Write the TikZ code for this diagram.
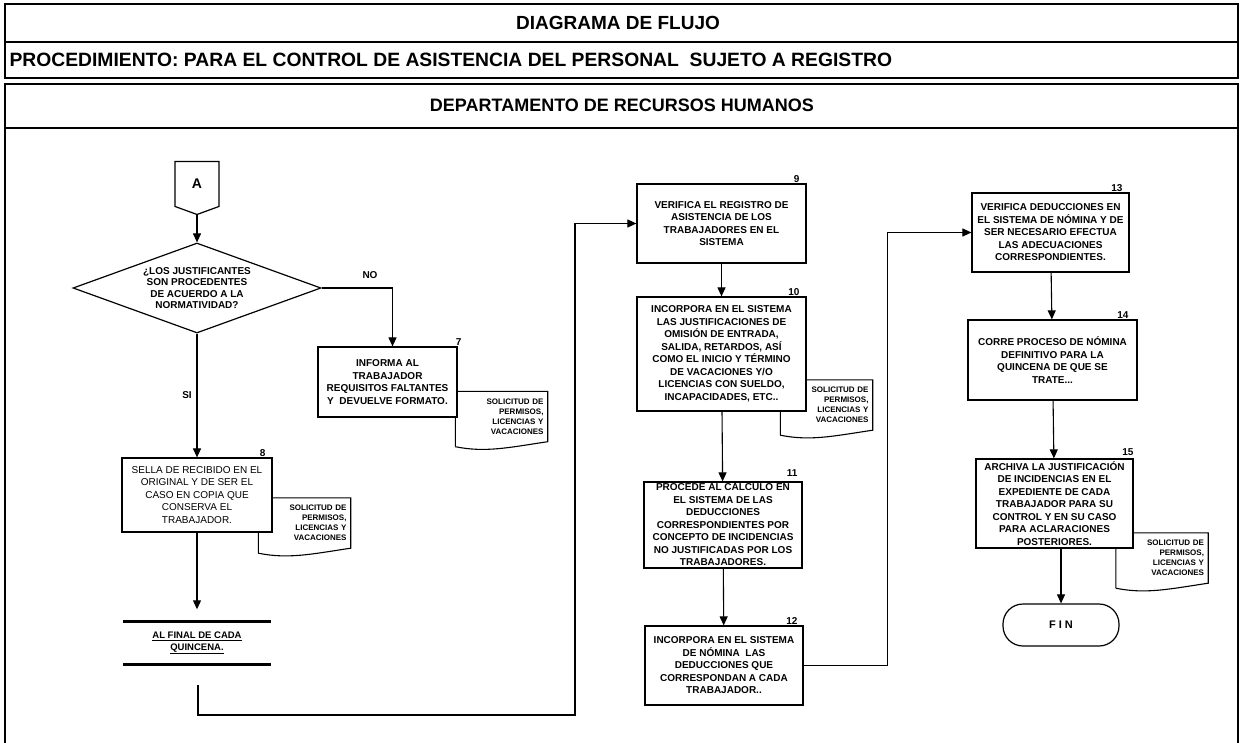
\documentclass[tikz,border=0pt]{standalone}
\usepackage{fontspec}
\setmainfont{Liberation Sans}
\usetikzlibrary{shapes.geometric, shapes.symbols, arrows.meta, positioning, backgrounds}
\tikzstyle{process} = [rectangle, draw=black, line width=1.2pt, fill=white, align=center, font=\fontsize{10}{12.5}\selectfont\bfseries, inner sep=1pt]
\tikzstyle{decision} = [diamond, draw=black, line width=1.2pt, fill=white, align=center, font=\fontsize{10}{11.5}\selectfont\bfseries, aspect=2.75, inner sep=0pt, minimum width=248pt, minimum height=90pt]
\tikzstyle{docu} = [rectangle, align=right, font=\fontsize{8}{10}\selectfont\bfseries, text width=84pt, inner xsep=4pt, minimum height=50pt]
\tikzstyle{docline} = [line width=1.1pt]
\tikzstyle{num} = [font=\fontsize{10}{12}\selectfont\bfseries, anchor=south east, inner sep=1pt]
\tikzstyle{lbl} = [font=\fontsize{10}{12}\selectfont\bfseries]
\tikzstyle{heading} = [font=\fontsize{19}{21}\selectfont\bfseries]
\tikzstyle{frame} = [line width=2pt]
\tikzstyle{offpage} = [signal, signal to=south, signal pointer angle=140, draw=black, line width=1.2pt, font=\fontsize{14}{16}\selectfont\bfseries, minimum width=44pt, minimum height=48pt]
\tikzstyle{terminal} = [rectangle, rounded corners=20pt, draw=black, line width=1.2pt, minimum width=116pt, minimum height=42pt, font=\fontsize{11}{13}\selectfont\bfseries]
\tikzstyle{waitbox} = [align=center, font=\fontsize{9.5}{12}\selectfont\bfseries, minimum width=147pt, minimum height=43pt]
\tikzstyle{arrow} = [line width=1.1pt,->,>={Triangle[length=9pt,width=8pt]}]

\begin{document}
\begin{tikzpicture}[x=1pt, y=-1pt, node distance=130pt]
    \useasboundingbox (0,0) rectangle (1241,743);
    % frames
    \draw[frame] (5,4) rectangle (1238,42);
    \draw[frame] (5,42) rectangle (1238,78);
    \draw[frame] (5,743) -- (5,84) -- (1238,84) -- (1238,743);
    \draw[frame] (5,128) -- (1238,128);
    \node (title) [heading] at (618,23) {DIAGRAMA DE FLUJO};
    \node (procname) [heading, anchor=west, font=\fontsize{19.3}{21}\selectfont\bfseries] at (6,60) {PROCEDIMIENTO: PARA EL CONTROL DE ASISTENCIA DEL PERSONAL\ \ SUJETO A REGISTRO};
    \node (dept) [heading, font=\fontsize{18}{21}\selectfont\bfseries] at (622,105) {DEPARTAMENTO DE RECURSOS HUMANOS};

    % column 1
    \node (conA) [offpage] at (197,184) {A};
    \node (dec1) [decision] at (197,288) {¿LOS JUSTIFICANTES\\SON PROCEDENTES\\DE ACUERDO A LA\\NORMATIVIDAD?};
    \node (proc7) [process, minimum width=139pt, minimum height=70pt, label={[num, xshift=5pt]north east:7}] at (387.5,382) {INFORMA AL\\TRABAJADOR\\REQUISITOS FALTANTES\\Y\ \ DEVUELVE FORMATO.};
    \node (proc8) [process, below of=dec1, yshift=-77pt, minimum width=150pt, minimum height=74pt, font=\fontsize{10}{12.5}\selectfont, label={[num, xshift=-6pt]north east:8}] {SELLA DE RECIBIDO EN EL\\ORIGINAL Y DE SER EL\\CASO EN COPIA QUE\\CONSERVA EL\\TRABAJADOR.};
    \node (wait1) [waitbox, below of=proc8, yshift=-18pt] {\underline{AL FINAL DE CADA}\\\underline{QUINCENA.}};
    \coordinate (w1out) at (198,685);

    % column 2
    \node (proc9) [process, minimum width=169pt, minimum height=79pt, label={[num, xshift=-6pt]north east:9}] at (721.5,223.5) {VERIFICA EL REGISTRO DE\\ASISTENCIA DE LOS\\TRABAJADORES EN EL\\SISTEMA};
    \node (proc10) [process, below of=proc9, yshift=-0.5pt, minimum width=169pt, minimum height=114pt, label={[num, xshift=-6pt]north east:10}] {INCORPORA EN EL SISTEMA\\LAS JUSTIFICACIONES DE\\OMISIÓN DE ENTRADA,\\SALIDA, RETARDOS, ASÍ\\COMO EL INICIO Y TÉRMINO\\DE VACACIONES Y/O\\LICENCIAS CON SUELDO,\\INCAPACIDADES, ETC..};
    \node (proc11) [process, below of=proc10, yshift=-41pt, xshift=1.5pt, minimum width=158pt, minimum height=86pt, inner sep=0pt, label={[num, xshift=-4pt, yshift=4pt]north east:11}] {PROCEDE AL CALCULO EN\\EL SISTEMA DE LAS\\DEDUCCIONES\\CORRESPONDIENTES POR\\CONCEPTO DE INCIDENCIAS\\NO JUSTIFICADAS POR LOS\\TRABAJADORES.};
    \node (proc12) [process, below of=proc11, yshift=-10.5pt, xshift=1pt, minimum width=158pt, minimum height=79pt, label={[num, xshift=-5pt]north east:12}] {INCORPORA EN EL SISTEMA\\DE NÓMINA\ \ LAS\\DEDUCCIONES QUE\\CORRESPONDAN A CADA\\TRABAJADOR..};

    % column 3
    \node (proc13) [process, minimum width=157pt, minimum height=79pt, label={[num, xshift=-6pt]north east:13}] at (1050.5,232.5) {VERIFICA DEDUCCIONES EN\\EL SISTEMA DE NÓMINA Y DE\\SER NECESARIO EFECTUA\\LAS ADECUACIONES\\CORRESPONDIENTES.};
    \node (proc14) [process, below of=proc13, yshift=2.5pt, xshift=2pt, minimum width=169pt, minimum height=80pt, label={[num, xshift=-8pt]north east:14}] {CORRE PROCESO DE NÓMINA\\DEFINITIVO PARA LA\\QUINCENA DE QUE SE\\TRATE...};
    \node (proc15) [process, below of=proc14, yshift=-13.5pt, xshift=2pt, minimum width=157pt, minimum height=89pt, label={[num, xshift=1pt, yshift=2pt]north east:15}] {ARCHIVA LA JUSTIFICACIÓN\\DE INCIDENCIAS EN EL\\EXPEDIENTE DE CADA\\TRABAJADOR PARA SU\\CONTROL Y EN SU CASO\\PARA ACLARACIONES\\POSTERIORES.};
    \node (fin) [terminal, below of=proc15, yshift=8.5pt, xshift=6.5pt] {F I N};

    % documents
    \node (doc7) [docu] at (501.5,416.5) {SOLICITUD DE\\PERMISOS,\\LICENCIAS Y\\VACACIONES};
    \node (doc8) [docu] at (304.5,523) {SOLICITUD DE\\PERMISOS,\\LICENCIAS Y\\VACACIONES};
    \node (doc10) [docu] at (826.5,405) {SOLICITUD DE\\PERMISOS,\\LICENCIAS Y\\VACACIONES};
    \node (doc15) [docu] at (1162,558) {SOLICITUD DE\\PERMISOS,\\LICENCIAS Y\\VACACIONES};
    \begin{pgfonlayer}{background}
        \foreach \d in {doc7, doc8, doc10, doc15}
            \draw[docline] ([yshift=-5pt]\d.south west) -- (\d.north west) -- (\d.north east) -- (\d.south east) .. controls +(-40,6) and +(30,6) .. ([yshift=-5pt]\d.south west);
    \end{pgfonlayer}

    % wait lines
    \draw[line width=2.5pt] (wait1.north west) -- (wait1.north east);
    \draw[line width=2.5pt] (wait1.south west) -- (wait1.south east);

    % connectors
    \draw[arrow] (conA.south) -- (dec1.north);
    \draw[arrow] (dec1.east) -| ([xshift=5pt]proc7.north);
    \draw[arrow] (dec1.south) -- (proc8.north);
    \draw[arrow] (proc8.south) -- ([yshift=12pt]wait1.north);
    \draw[arrow] (w1out) |- (575,715) |- (proc9.west);
    \draw[arrow] (proc9) -- (proc10);
    \draw[arrow] (proc10) -- (proc11);
    \draw[arrow] (proc11) -- (proc12);
    \draw[arrow] (proc12.east) -- ++(84,0) |- (proc13.west);
    \draw[arrow] (proc13) -- (proc14);
    \draw[arrow] (proc14) -- (proc15);
    \draw[arrow] (fin.north |- proc15.south) -- (fin.north);
    \node (lblno) [lbl] at (370,275) {NO};
    \node (lblsi) [lbl] at (187,395) {SI};
\end{tikzpicture}
\end{document}
